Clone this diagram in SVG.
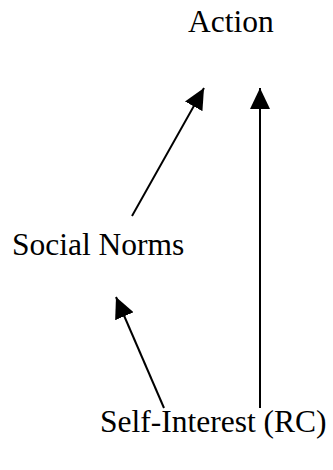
<svg xmlns="http://www.w3.org/2000/svg" width="333" height="470" viewBox="0 0 333 470">
<style>
text{font-family:"Liberation Serif","Times New Roman",serif;font-size:31.5px;fill:#000}
.c{stroke:#000;stroke-width:2;fill:none}
</style>
<defs>
<marker id="ah" markerUnits="userSpaceOnUse" markerWidth="22" markerHeight="20" refX="21" refY="10" orient="auto" viewBox="0 0 22 20">
<path d="M0,0 L21,10 L0,20 z" fill="#000"/>
</marker>
</defs>
<rect width="333" height="470" fill="#fff"/>
<g id="action"><text x="188" y="32">Action</text></g>
<g id="social-norms"><text x="12" y="255">Social Norms</text></g>
<g id="self-interest"><text x="100" y="432">Self-Interest (RC)</text></g>
<g id="connectors">
<line class="c" x1="132" y1="216" x2="204" y2="88" marker-end="url(#ah)"/>
<line class="c" x1="260" y1="408" x2="260" y2="88" marker-end="url(#ah)"/>
<line class="c" x1="164" y1="408" x2="116" y2="297" marker-end="url(#ah)"/>
</g>
</svg>
